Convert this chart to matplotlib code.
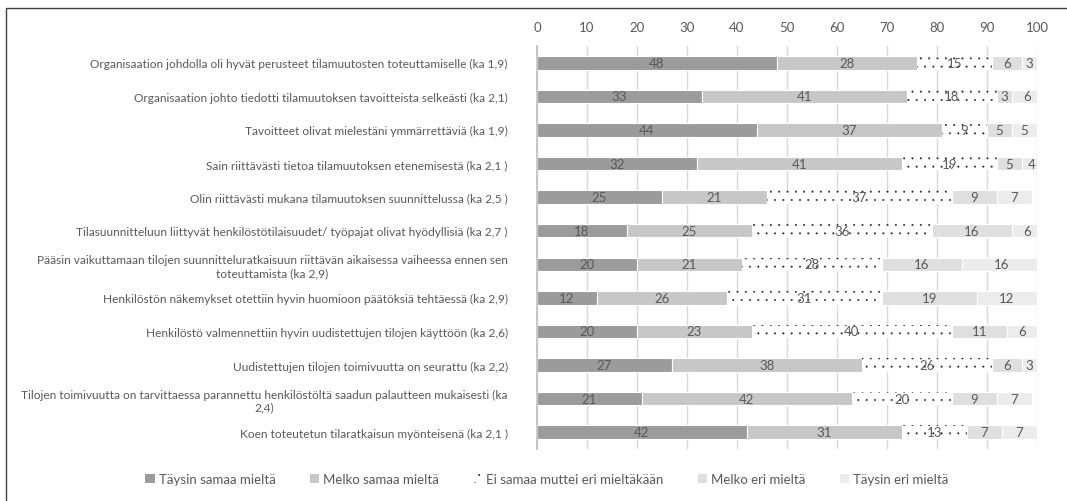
import matplotlib
matplotlib.use("Agg")
import matplotlib.pyplot as plt
from matplotlib.patches import Rectangle, Patch
import numpy as np

plt.rcParams['font.family'] = ['Lato', 'DejaVu Sans']
plt.rcParams['hatch.linewidth'] = 0.2

categories = [
    "Organisaation johdolla oli hyvät perusteet tilamuutosten toteuttamiselle (ka 1,9)",
    "Organisaation johto tiedotti tilamuutoksen tavoitteista selkeästi (ka 2,1)",
    "Tavoitteet olivat mielestäni ymmärrettäviä (ka 1,9)",
    "Sain riittävästi tietoa tilamuutoksen etenemisestä (ka 2,1 )",
    "Olin riittävästi mukana tilamuutoksen suunnittelussa (ka 2,5 )",
    "Tilasuunnitteluun liittyvät henkilöstötilaisuudet/ työpajat olivat hyödyllisiä (ka 2,7 )",
    "Pääsin vaikuttamaan tilojen suunnitteluratkaisuun riittävän aikaisessa vaiheessa ennen sen\ntoteuttamista (ka 2,9)",
    "Henkilöstön näkemykset otettiin hyvin huomioon päätöksiä tehtäessä (ka 2,9)",
    "Henkilöstö valmennettiin hyvin uudistettujen tilojen käyttöön (ka 2,6)",
    "Uudistettujen tilojen toimivuutta on seurattu (ka 2,2)",
    "Tilojen toimivuutta on tarvittaessa parannettu henkilöstöltä saadun palautteen mukaisesti (ka\n2,4)",
    "Koen toteutetun tilaratkaisun myönteisenä (ka 2,1 )",
]

series_names = [
    "Täysin samaa mieltä",
    "Melko samaa mieltä",
    "Ei samaa muttei eri mieltäkään",
    "Melko eri mieltä",
    "Täysin eri mieltä",
]

taysin_samaa = [48, 33, 44, 32, 25, 18, 20, 12, 20, 27, 21, 42]
melko_samaa = [28, 41, 37, 41, 21, 25, 21, 26, 23, 38, 42, 31]
ei_samaa_ei_eri = [15, 18, 9, 19, 37, 36, 28, 31, 40, 26, 20, 13]
melko_eri = [6, 3, 5, 5, 9, 16, 16, 19, 11, 6, 9, 7]
taysin_eri = [3, 6, 5, 4, 7, 6, 16, 12, 6, 3, 7, 7]

series = [taysin_samaa, melko_samaa, ei_samaa_ei_eri, melko_eri, taysin_eri]

styles = [
    dict(facecolor='#9b9b9b', edgecolor='white', linewidth=0.8, hatch=None),
    dict(facecolor='#c8c7c8', edgecolor='white', linewidth=0.8, hatch=None),
    dict(facecolor='white', edgecolor='#222222', linewidth=0, hatch='..'),
    dict(facecolor='#dfdfdf', edgecolor='white', linewidth=0.8, hatch=None),
    dict(facecolor='#ececec', edgecolor='white', linewidth=0.8, hatch=None),
]

fig = plt.figure(figsize=(10.67, 5.02), dpi=100)
ax = fig.add_axes([537/1067, 1-450/502, 500/1067, (450-47)/502])

y = np.arange(len(categories))
left = np.zeros(len(categories))
txt_color = '#595959'
for vals, st in zip(series, styles):
    vals = np.array(vals, dtype=float)
    ax.barh(y, vals, left=left, height=0.4, zorder=3, **st)
    for yi, l, v in zip(y, left, vals):
        ax.text(l + v/2, yi, f"{int(v)}", ha='center', va='center',
                fontsize=9.5, color=txt_color, zorder=4)
    left = left + vals

ax.set_xlim(0, 100)
ax.set_ylim(len(categories)-0.5, -0.5)
ax.set_xticks(np.arange(0, 101, 10))
ax.xaxis.tick_top()
ax.tick_params(axis='x', length=0, pad=9, labelsize=9.5, labelcolor=txt_color)
ax.set_yticks(y)
ax.set_yticklabels(categories, fontsize=8.6, color=txt_color, multialignment='center')
ax.tick_params(axis='y', length=0, pad=21)
ax.grid(axis='x', color='#d9d9d9', linewidth=1, zorder=0)
ax.set_axisbelow(True)
for s in ['top', 'right', 'bottom']:
    ax.spines[s].set_visible(False)
ax.spines['left'].set_color('#bfbfbf')
ax.spines['left'].set_linewidth(1.2)
ax.spines['left'].set_zorder(5)

handles = [Patch(facecolor=st['facecolor'], edgecolor=('#222222' if st['hatch'] else st['facecolor']),
                 hatch=st['hatch'], linewidth=0) for st in styles]
leg = fig.legend(handles, series_names, loc='center', bbox_to_anchor=(547/1067, 1-480/502),
                 ncol=5, frameon=False, fontsize=9.5, handlelength=0.7, handleheight=0.7,
                 handletextpad=0.3, columnspacing=2.6)
for t in leg.get_texts():
    t.set_color(txt_color)

fig.patches.append(Rectangle((6/1067, -0.05), 1.1, 1-9/502+0.05, transform=fig.transFigure,
                             fill=False, edgecolor='#404040', linewidth=1.0))

fig.savefig('out.png', dpi=100)
